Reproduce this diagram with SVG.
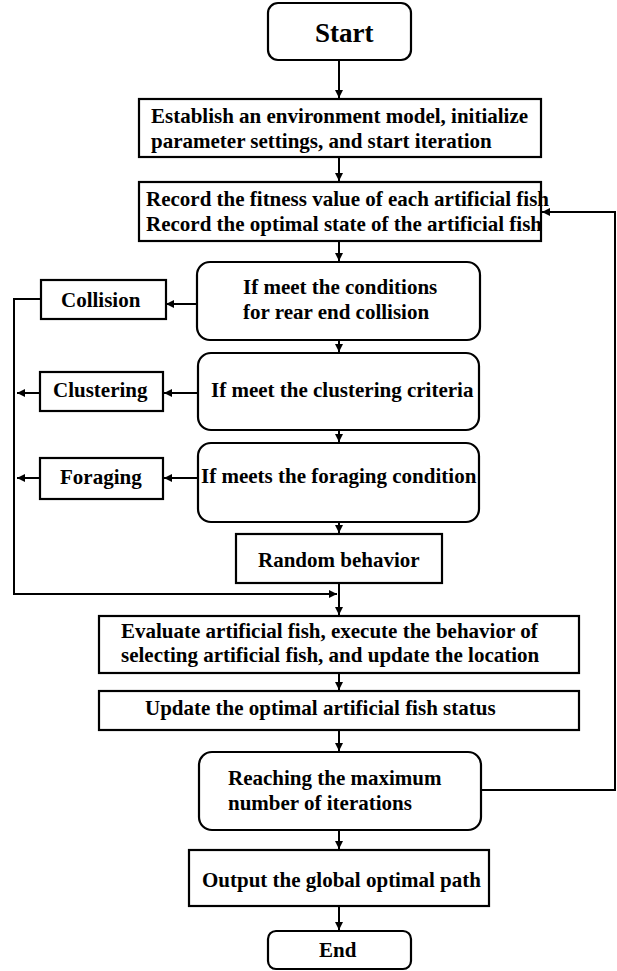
<svg xmlns="http://www.w3.org/2000/svg" width="617" height="971" viewBox="0 0 617 971">
<style>
.box{fill:#fff;stroke:#000;stroke-width:2.2}
.t{font-family:"Liberation Serif","Times New Roman",serif;font-weight:bold;font-size:21px;fill:#000}
.c{fill:none;stroke:#000;stroke-width:2}
</style>
<defs>
<marker id="ah" viewBox="0 0 10 10" refX="10" refY="5" markerWidth="4" markerHeight="4" orient="auto" markerUnits="strokeWidth">
<path d="M0,0 L10,5 L0,10 z" fill="#000"/>
</marker>
</defs>
<rect width="617" height="971" fill="#fff"/>
<g id="connectors">
<path class="c" d="M339,60 L339,98" marker-end="url(#ah)"/>
<path class="c" d="M339,157 L339,181" marker-end="url(#ah)"/>
<path class="c" d="M339,241 L339,261" marker-end="url(#ah)"/>
<path class="c" d="M339,340 L339,352" marker-end="url(#ah)"/>
<path class="c" d="M339,430 L339,442" marker-end="url(#ah)"/>
<path class="c" d="M339,522 L339,533" marker-end="url(#ah)"/>
<path class="c" d="M339,583 L339,615" marker-end="url(#ah)"/>
<path class="c" d="M339,673 L339,690" marker-end="url(#ah)"/>
<path class="c" d="M339,730 L339,751" marker-end="url(#ah)"/>
<path class="c" d="M339,830 L339,849" marker-end="url(#ah)"/>
<path class="c" d="M339,906 L339,930" marker-end="url(#ah)"/>
<path class="c" d="M197,304 L166,304" marker-end="url(#ah)"/>
<path class="c" d="M198,393 L164,393" marker-end="url(#ah)"/>
<path class="c" d="M198,478 L164,478" marker-end="url(#ah)"/>
<path class="c" d="M40,393 L17,393" marker-end="url(#ah)"/>
<path class="c" d="M40,478 L17,478" marker-end="url(#ah)"/>
<path class="c" d="M41,299 L14,299 L14,594 L337,594" marker-end="url(#ah)"/>
<path class="c" d="M481,790 L615,790 L615,212 L542,212" marker-end="url(#ah)"/>
</g>
<g id="start">
<rect class="box" x="268" y="3" width="143" height="57" rx="10"/>
<text class="t" x="315" y="42" style="font-size:27px">Start</text>
</g>
<g id="establish">
<rect class="box" x="139" y="99" width="402" height="58"/>
<text class="t" x="151" y="123">Establish an environment model, initialize</text>
<text class="t" x="151" y="148">parameter settings, and start iteration</text>
</g>
<g id="record">
<rect class="box" x="139" y="182" width="402" height="59"/>
<text class="t" x="146" y="206">Record the fitness value of each artificial fish</text>
<text class="t" x="146" y="231">Record the optimal state of the artificial fish</text>
</g>
<g id="cond-collision">
<rect class="box" x="197" y="262" width="283" height="78" rx="13"/>
<text class="t" x="243" y="294">If meet the conditions</text>
<text class="t" x="243" y="319">for rear end collision</text>
</g>
<g id="collision">
<rect class="box" x="41" y="280" width="125" height="39"/>
<text class="t" x="61" y="307">Collision</text>
</g>
<g id="cond-clustering">
<rect class="box" x="198" y="353" width="281" height="77" rx="13"/>
<text class="t" x="211" y="397">If meet the clustering criteria</text>
</g>
<g id="clustering">
<rect class="box" x="40" y="372" width="123" height="39"/>
<text class="t" x="53" y="397">Clustering</text>
</g>
<g id="cond-foraging">
<rect class="box" x="198" y="443" width="281" height="79" rx="13"/>
<text class="t" x="201" y="483">If meets the foraging condition</text>
</g>
<g id="foraging">
<rect class="box" x="40" y="458" width="123" height="41"/>
<text class="t" x="60" y="484">Foraging</text>
</g>
<g id="random">
<rect class="box" x="236" y="534" width="206" height="49"/>
<text class="t" x="258" y="567">Random behavior</text>
</g>
<g id="evaluate">
<rect class="box" x="99" y="616" width="480" height="57"/>
<text class="t" x="121" y="638">Evaluate artificial fish, execute the behavior of</text>
<text class="t" x="121" y="662">selecting artificial fish, and update the location</text>
</g>
<g id="update">
<rect class="box" x="99" y="691" width="480" height="39"/>
<text class="t" x="145" y="715">Update the optimal artificial fish status</text>
</g>
<g id="reaching">
<rect class="box" x="199" y="752" width="282" height="78" rx="13"/>
<text class="t" x="228" y="785">Reaching the maximum</text>
<text class="t" x="228" y="810">number of iterations</text>
</g>
<g id="output">
<rect class="box" x="189" y="850" width="300" height="56"/>
<text class="t" x="202" y="887">Output the global optimal path</text>
</g>
<g id="end">
<rect class="box" x="268" y="931" width="143" height="38" rx="8"/>
<text class="t" x="319" y="957">End</text>
</g>
</svg>
